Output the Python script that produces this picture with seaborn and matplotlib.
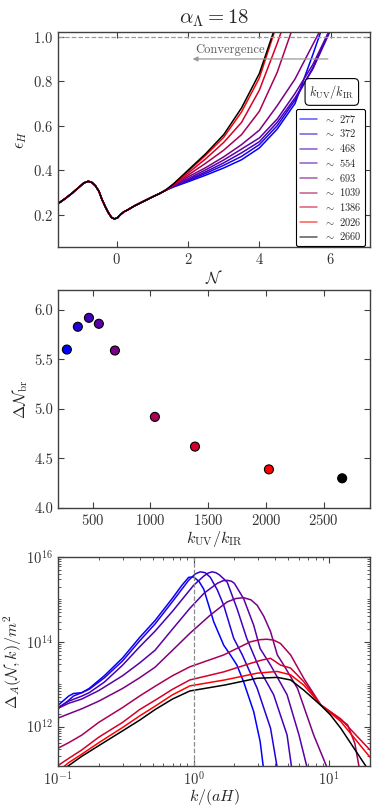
import numpy as np
import pandas as pd
import matplotlib
matplotlib.use('Agg')
import matplotlib.pyplot as plt
from matplotlib.lines import Line2D
import seaborn as sns

# ---- data ----
ratios = [277, 372, 468, 554, 693, 1039, 1386, 2026, 2660]
colors = ['#0000ff', '#2600d9', '#4300bc', '#5900a6', '#7a0086',
          '#ab0056', '#d4002c', '#ff0000', '#000000']

# top panel: epsilon_H vs N, shared early part + one tail per run
shared_N = [-1.66, -1.645, -1.45, -1.25, -1.05, -0.92, -0.8, -0.7, -0.6, -0.5, -0.42,
            -0.32, -0.24, -0.15, -0.07, 0.02, 0.1, 0.2, 0.3, 0.5, 0.75, 1.0, 1.2, 1.36]
shared_eps = [1.5, 0.25, 0.272, 0.297, 0.325, 0.343, 0.35, 0.345, 0.33, 0.305, 0.27,
              0.235, 0.21, 0.188, 0.181, 0.186, 0.2, 0.213, 0.221, 0.24, 0.26, 0.28, 0.295, 0.309]
tail_N = [1.6, 2.0, 2.5, 3.0, 3.5, 4.0, 4.5, 5.0, 5.5, 6.0, 6.3]
tail_eps = [
    [0.325, 0.348, 0.378, 0.410, 0.447, 0.500, 0.585, 0.700, 0.920, 1.15],
    [0.327, 0.353, 0.386, 0.422, 0.462, 0.515, 0.600, 0.715, 0.860, 1.040, 1.15],
    [0.328, 0.357, 0.393, 0.433, 0.478, 0.528, 0.615, 0.725, 0.855, 1.030, 1.14],
    [0.330, 0.362, 0.402, 0.446, 0.495, 0.545, 0.630, 0.745, 0.875, 1.040, 1.15],
    [0.332, 0.370, 0.412, 0.460, 0.515, 0.580, 0.690, 0.810, 0.965, 1.120],
    [0.334, 0.378, 0.432, 0.490, 0.560, 0.665, 0.840, 1.070],
    [0.336, 0.387, 0.452, 0.525, 0.615, 0.760, 0.970, 1.200],
    [0.338, 0.395, 0.468, 0.548, 0.662, 0.815, 1.060],
    [0.340, 0.400, 0.475, 0.560, 0.680, 0.835, 1.070],
]

# middle panel: Delta N_br
delta_N_br = [5.60, 5.83, 5.92, 5.86, 5.59, 4.92, 4.62, 4.39, 4.30]

# bottom panel: spectra, log10 of Delta_A/m^2 vs k/(aH)
spec_k = [
    [0.1, 0.12, 0.13, 0.15, 0.17, 0.22, 0.3, 0.4, 0.52, 0.7, 0.82, 0.92, 1.0, 1.1, 1.19, 1.41, 1.67, 1.87, 2.09, 2.34, 2.78, 3.1, 3.28, 3.4],
    [0.1, 0.12, 0.13, 0.15, 0.17, 0.22, 0.3, 0.4, 0.52, 0.7, 0.92, 1.03, 1.12, 1.22, 1.33, 1.5, 1.67, 1.98, 2.29, 2.95, 3.7, 4.15, 4.3],
    [0.1, 0.12, 0.15, 0.17, 0.22, 0.3, 0.4, 0.52, 0.7, 1.0, 1.19, 1.28, 1.37, 1.46, 1.55, 1.77, 2.09, 2.47, 2.78, 3.13, 3.9, 4.9, 5.3, 5.5],
    [0.1, 0.12, 0.15, 0.2, 0.3, 0.4, 0.52, 0.7, 0.94, 1.2, 1.5, 1.65, 1.77, 1.9, 2.0, 2.34, 2.78, 3.1, 3.7, 4.9, 6.0, 6.9, 7.2],
    [0.1, 0.12, 0.15, 0.2, 0.3, 0.4, 0.52, 0.7, 0.94, 1.33, 1.77, 2.05, 2.34, 2.65, 2.95, 3.3, 3.7, 4.15, 4.63, 5.85, 7.7, 9.7, 10.2],
    [0.1, 0.12, 0.15, 0.2, 0.3, 0.4, 0.52, 0.7, 0.94, 1.67, 2.63, 3.1, 3.47, 3.9, 4.38, 5.2, 6.5, 8.7, 12.0, 13.7, 15.5, 16.7, 17.2],
    [0.1, 0.12, 0.15, 0.2, 0.3, 0.4, 0.52, 0.7, 0.94, 1.67, 2.63, 3.2, 3.7, 4.38, 5.2, 6.5, 8.7, 12.2, 20],
    [0.1, 0.107, 0.12, 0.15, 0.2, 0.3, 0.4, 0.52, 0.7, 0.94, 1.7, 2.95, 4.15, 5.2, 6.5, 8.7, 12.2, 20],
    [0.1, 0.112, 0.12, 0.15, 0.2, 0.3, 0.4, 0.52, 0.7, 0.94, 1.7, 2.95, 4.15, 5.2, 6.5, 8.7, 10.2, 12.2, 19.1, 20],
]
spec_logd = [
    [12.5, 12.72, 12.78, 12.8, 12.9, 13.2, 13.62, 14.1, 14.5, 15.03, 15.33, 15.52, 15.53, 15.42, 15.24, 14.47, 13.92, 13.69, 13.45, 13.06, 12.35, 11.65, 11.02, 10.6],
    [12.42, 12.62, 12.72, 12.8, 12.88, 13.15, 13.55, 14.02, 14.42, 14.95, 15.45, 15.6, 15.65, 15.63, 15.52, 15.22, 14.86, 14.08, 13.69, 12.9, 11.96, 11.02, 10.6],
    [12.45, 12.6, 12.72, 12.8, 13.05, 13.45, 13.88, 14.25, 14.72, 15.33, 15.55, 15.62, 15.65, 15.63, 15.58, 15.41, 14.79, 14.08, 13.69, 13.3, 12.75, 11.8, 11.02, 10.6],
    [12.43, 12.55, 12.65, 12.85, 13.2, 13.5, 13.8, 14.3, 14.79, 15.15, 15.38, 15.44, 15.45, 15.43, 15.38, 15.02, 14.39, 13.84, 13.45, 12.75, 11.8, 11.02, 10.6],
    [12.2, 12.3, 12.42, 12.6, 12.9, 13.15, 13.4, 13.8, 14.2, 14.63, 14.94, 15.02, 15.04, 14.99, 14.86, 14.6, 14.24, 13.69, 13.45, 12.9, 11.8, 11.02, 10.6],
    [11.49, 11.62, 11.8, 12.1, 12.45, 12.72, 12.95, 13.2, 13.41, 13.69, 14.0, 14.05, 14.06, 14.04, 13.96, 13.69, 13.14, 12.51, 12.18, 12.04, 11.6, 11.02, 10.6],
    [11.08, 11.25, 11.45, 11.75, 12.1, 12.4, 12.62, 12.88, 13.1, 13.29, 13.49, 13.57, 13.61, 13.45, 13.38, 13.06, 12.51, 12.18, 11.45],
    [10.85, 11.02, 11.15, 11.35, 11.62, 11.98, 12.25, 12.48, 12.75, 12.96, 13.1, 13.26, 13.3, 13.22, 12.98, 12.51, 12.12, 11.28],
    [10.8, 11.02, 11.08, 11.3, 11.55, 11.9, 12.15, 12.4, 12.65, 12.84, 12.98, 13.14, 13.16, 13.1, 12.86, 12.5, 12.28, 11.96, 11.02, 10.9],
]

# ---- style ----
sns.set_style('ticks')
plt.rcParams.update({
    'font.family': 'serif',
    'font.serif': ['cmr10', 'DejaVu Serif'],
    'mathtext.fontset': 'cm',
    'axes.formatter.use_mathtext': True,
    'axes.edgecolor': '0.25',
    'axes.linewidth': 1.0,
    'xtick.direction': 'in', 'ytick.direction': 'in',
    'xtick.top': True, 'ytick.right': True,
    'xtick.major.size': 4, 'ytick.major.size': 4,
    'xtick.minor.size': 2, 'ytick.minor.size': 2,
    'xtick.color': '0.25', 'ytick.color': '0.25',
    'xtick.labelcolor': '0.2', 'ytick.labelcolor': '0.2',
    'xtick.labelsize': 10.5, 'ytick.labelsize': 10.5,
    'axes.labelsize': 11.5,
})

fig = plt.figure(figsize=(3.74, 8.07), dpi=100)
ax1 = fig.add_axes([0.155, 0.694, 0.834, 0.266])
ax2 = fig.add_axes([0.155, 0.3705, 0.834, 0.270])
ax3 = fig.add_axes([0.155, 0.0508, 0.834, 0.259])

# ---- top panel ----
for i, r in enumerate(ratios):
    n_vals = shared_N + tail_N[:len(tail_eps[i])]
    e_vals = shared_eps + tail_eps[i]
    sns.lineplot(x=n_vals, y=e_vals, color=colors[i], lw=1.1, sort=False,
                 estimator=None, ax=ax1)
ax1.axhline(1.0, color='0.6', ls='--', lw=0.9)
ax1.annotate('', xy=(2.05, 0.9), xytext=(6.0, 0.9),
             arrowprops=dict(arrowstyle='-|>', color='0.6', lw=0.9, mutation_scale=7))
ax1.text(3.18, 0.94, 'Convergence', ha='center', va='center', fontsize=9, color='0.35')
ax1.set_xlim(-1.65, 7.1)
ax1.set_ylim(0.055, 1.02)
ax1.set_xticks([0, 2, 4, 6])
ax1.set_yticks([0.2, 0.4, 0.6, 0.8, 1.0])
ax1.set_xlabel(r'$\mathcal{N}$', labelpad=1)
ax1.set_ylabel(r'$\epsilon_H$', labelpad=3)
ax1.set_title(r'$\alpha_\Lambda = 18$', fontsize=15, pad=6)

handles = [Line2D([], [], color=c, lw=1.1, alpha=0.65) for c in colors]
labels = [r'$\sim$ %d' % r for r in ratios]
leg = ax1.legend(handles, labels, loc='lower right', bbox_to_anchor=(0.985, 0.004),
                 fontsize=7.5, frameon=True, fancybox=True, edgecolor='black',
                 framealpha=1, borderaxespad=0, handlelength=1.6, handletextpad=0.7,
                 labelspacing=0.26, borderpad=0.35)
leg.get_frame().set_linewidth(0.8)
ax1.text(0.878, 0.722, r'$k_{\rm UV}/k_{\rm IR}$', transform=ax1.transAxes,
         ha='center', va='center', fontsize=9,
         bbox=dict(boxstyle='round,pad=0.35', fc='white', ec='black', lw=0.8))

# ---- middle panel ----
mid = pd.DataFrame({'ratio': ratios, 'dN': delta_N_br})
sns.scatterplot(data=mid, x='ratio', y='dN', hue='ratio', palette=colors,
                hue_order=ratios, s=42, edgecolor='black', linewidth=0.8,
                legend=False, ax=ax2)
ax2.set_xlim(200, 2900)
ax2.set_ylim(4.0, 6.2)
ax2.set_xticks([500, 1000, 1500, 2000, 2500])
ax2.set_yticks([4.0, 4.5, 5.0, 5.5, 6.0])
ax2.yaxis.set_major_formatter(matplotlib.ticker.FormatStrFormatter('%.1f'))
ax2.set_xlabel(r'$k_{\rm UV}/k_{\rm IR}$', labelpad=1)
ax2.set_ylabel(r'$\Delta\mathcal{N}_{\rm br}$', labelpad=3)

# ---- bottom panel ----
for i, r in enumerate(ratios):
    sns.lineplot(x=spec_k[i], y=10.0 ** np.array(spec_logd[i]), color=colors[i],
                 lw=1.1, sort=False, estimator=None, ax=ax3)
ax3.axvline(1.0, color='0.55', ls='--', lw=0.9)
ax3.set_xscale('log')
ax3.set_yscale('log')
ax3.set_xlim(0.1, 20)
ax3.set_ylim(10 ** 11.07, 1e16)
ax3.yaxis.set_major_locator(matplotlib.ticker.FixedLocator([1e12, 1e14, 1e16]))
ax3.yaxis.set_minor_locator(matplotlib.ticker.LogLocator(base=10, subs=np.arange(1, 10), numticks=20))
ax3.yaxis.set_minor_formatter(matplotlib.ticker.NullFormatter())
ax3.set_xlabel(r'$k/(aH)$', labelpad=-1)
ax3.set_ylabel(r'$\Delta_A(\mathcal{N},k)/m^2$', labelpad=1)

fig.savefig('out.png', dpi=100)
